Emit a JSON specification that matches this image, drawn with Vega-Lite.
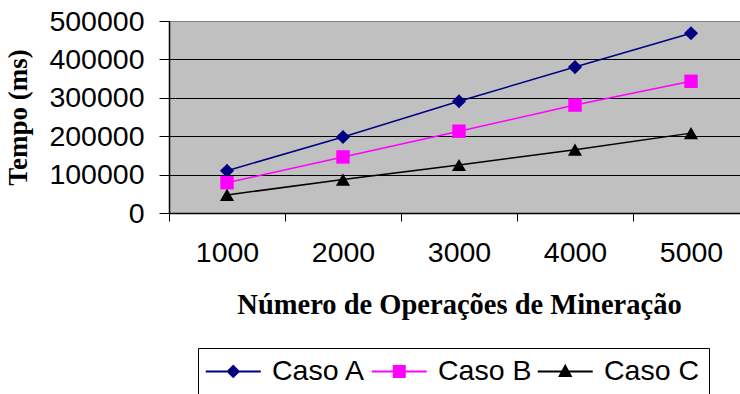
{
  "$schema": "https://vega.github.io/schema/vega-lite/v6.json",
  "autosize": "none",
  "padding": {"left": 169, "top": 21, "right": 0, "bottom": 181},
  "width": 580,
  "height": 192,
  "background": "white",
  "config": {
    "view": {"fill": "#C0C0C0", "stroke": "#808080", "strokeWidth": 1},
    "axis": {"labelFont": "Liberation Sans", "labelFontSize": 28.5, "labelColor": "black", "titleFont": "Liberation Serif", "titleFontWeight": "bold", "titleFontSize": 28.5, "titleColor": "black", "domainColor": "black", "tickColor": "black"}
  },
  "data": {
    "values": [
      {"ops": "1000", "caso": "Caso A", "tempo": 110000},
      {"ops": "2000", "caso": "Caso A", "tempo": 198000},
      {"ops": "3000", "caso": "Caso A", "tempo": 291000},
      {"ops": "4000", "caso": "Caso A", "tempo": 380000},
      {"ops": "5000", "caso": "Caso A", "tempo": 468000},
      {"ops": "1000", "caso": "Caso B", "tempo": 79000},
      {"ops": "2000", "caso": "Caso B", "tempo": 146000},
      {"ops": "3000", "caso": "Caso B", "tempo": 213000},
      {"ops": "4000", "caso": "Caso B", "tempo": 281000},
      {"ops": "5000", "caso": "Caso B", "tempo": 343000},
      {"ops": "1000", "caso": "Caso C", "tempo": 47000},
      {"ops": "2000", "caso": "Caso C", "tempo": 87000},
      {"ops": "3000", "caso": "Caso C", "tempo": 125000},
      {"ops": "4000", "caso": "Caso C", "tempo": 165000},
      {"ops": "5000", "caso": "Caso C", "tempo": 208000}
    ]
  },
  "encoding": {
    "x": {
      "field": "ops", "type": "ordinal", "sort": null,
      "scale": {"type": "band", "paddingInner": 0, "paddingOuter": 0},
      "axis": {"title": "Número de Operações de Mineração", "labelAngle": 0, "tickBand": "extent", "tickSize": 8, "labelPadding": 17, "titlePadding": 24, "domainWidth": 1.5}
    },
    "y": {
      "field": "tempo", "type": "quantitative",
      "scale": {"domain": [0, 500000], "nice": false},
      "axis": {"title": "Tempo (ms)", "values": [0, 100000, 200000, 300000, 400000, 500000], "format": "d", "tickSize": 10, "labelPadding": 15, "titleFontSize": 27, "titlePadding": 16, "grid": true, "gridColor": {"condition": {"test": "datum.value == 500000", "value": "#808080"}, "value": "black"}, "gridWidth": 1, "domainWidth": 1.5}
    },
    "color": {
      "field": "caso", "type": "nominal",
      "scale": {"domain": ["Caso A", "Caso B", "Caso C"], "range": ["#000080", "#FF00FF", "#000000"]},
      "legend": {
        "title": null, "orient": "none", "direction": "horizontal", "legendX": 29, "legendY": 327,
        "strokeColor": "black", "fillColor": "white", "padding": 9,
        "labelFont": "Liberation Sans", "labelFontSize": 28.5, "labelColor": "black",
        "symbolSize": 400, "symbolOffset": 12, "labelOffset": 24.5, "columnPadding": 1, "symbolStrokeWidth": 2,
        "encode": {
          "symbols": {
            "update": {
              "shape": {"signal": "datum.value == 'Caso A' ? 'M-2.75,0H2.75M0,-0.55L0.55,0L0,0.55L-0.55,0Z' : datum.value == 'Caso B' ? 'M-2.75,0H2.75M-0.55,-0.55H0.55V0.55H-0.55Z' : 'M-2.75,0H2.75M0,-0.55L0.55,0.45H-0.55Z'"},
              "fill": {"scale": "color", "field": "value"},
              "stroke": {"scale": "color", "field": "value"},
              "opacity": {"value": 1}
            }
          }
        }
      }
    }
  },
  "layer": [
    {"mark": {"type": "line", "strokeWidth": 1.5}},
    {
      "transform": [{"filter": "datum.caso == 'Caso A'"}],
      "mark": {"type": "point", "shape": "diamond", "filled": true, "opacity": 1, "size": 200}
    },
    {
      "transform": [{"filter": "datum.caso == 'Caso B'"}],
      "mark": {"type": "point", "shape": "square", "filled": true, "opacity": 1, "size": 180}
    },
    {
      "transform": [{"filter": "datum.caso == 'Caso C'"}],
      "mark": {"type": "point", "shape": "triangle-up", "filled": true, "opacity": 1, "size": 200}
    }
  ]
}
